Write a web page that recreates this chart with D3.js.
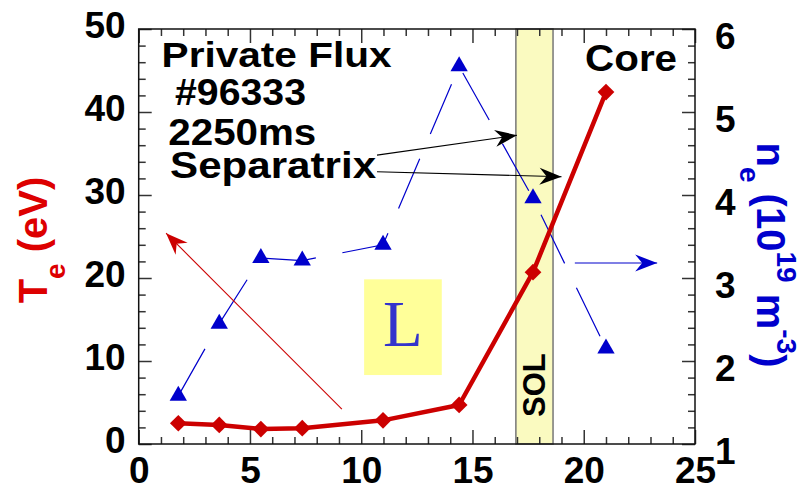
<!DOCTYPE html>
<html>
<head>
<meta charset="utf-8">
<script src="https://cdn.jsdelivr.net/npm/d3@7"></script>
<style>
	body { margin: 0; background: #fff; }
	text { font-family: "Liberation Sans", Arial, sans-serif; font-weight: bold; }
</style>
</head>
<body>
<svg id="chart" width="805" height="490"></svg>
<script>
// distance along the divertor (x), electron temperature and density
const xPos = [1.78, 3.62, 5.49, 7.35, 10.98, 14.4, 17.72, 21.0];
const teVals = [2.5, 2.3, 1.8, 1.9, 2.85, 4.7, 20.7, 42.4];
const nePos = [1.78, 3.62, 5.49, 7.35, 10.98, 14.4, 17.72, 21.0];
const neVals = [1.58, 2.45, 3.24, 3.21, 3.40, 5.55, 3.96, 2.15];

const xTicks = [0, 5, 10, 15, 20, 25];
const teTicks = [0, 10, 20, 30, 40, 50];
const neTicks = [1, 2, 3, 4, 5, 6];

const solBand = [16.95, 18.62];
const lBox = [10.13, 13.62, 8.31, 19.84];

let svg = d3.select("#chart");
let margin = {left: 138.7, right: 110, top: 29, bottom: 46};
let W = 805, H = 490;

let x = d3.scaleLinear().domain([0, 25]).range([margin.left, W - margin.right]);
let yL = d3.scaleLinear().domain([0, 50]).range([H - margin.bottom, margin.top]);
let yR = d3.scaleLinear().domain([1, 6]).range([H - margin.bottom, margin.top]);

let defs = svg.append("defs");
function arrowMarker(id, color) {
	defs.append("marker")
		.attr("id", id)
		.attr("markerUnits", "userSpaceOnUse")
		.attr("viewBox", "-24 -10 26 20")
		.attr("refX", 0).attr("refY", 0)
		.attr("markerWidth", 26).attr("markerHeight", 20)
		.attr("orient", "auto")
		.append("path")
		.attr("d", "M0,0 L-22,-8.5 L-15,0 L-22,8.5 Z")
		.attr("fill", color);
}
arrowMarker("headK", "#000");
arrowMarker("headB", "#0000cc");
arrowMarker("headR", "#cc0000");

// SOL band
svg.append("rect")
	.attr("x", x(solBand[0]))
	.attr("y", margin.top)
	.attr("width", x(solBand[1]) - x(solBand[0]))
	.attr("height", yL(0) - yL(50))
	.attr("fill", "#fafac0")
	.attr("stroke", "#777")
	.attr("stroke-width", 1.5);

// L-mode box
svg.append("rect")
	.attr("x", x(lBox[0]))
	.attr("y", yL(lBox[3]))
	.attr("width", x(lBox[1]) - x(lBox[0]))
	.attr("height", yL(lBox[2]) - yL(lBox[3]))
	.attr("fill", "#ffff99");
svg.append("text")
	.attr("x", x((lBox[0] + lBox[1]) / 2))
	.attr("y", yL(11.8))
	.attr("text-anchor", "middle")
	.style("font-family", "'Liberation Serif', 'Times New Roman', serif")
	.style("font-weight", "normal")
	.style("font-size", "65px")
	.attr("fill", "#3333cc")
	.text("L");

// axes: majors with labels, minors without
function styleAxis(g) {
	g.select(".domain").remove();
	g.selectAll(".tick line").attr("stroke", "#333").attr("stroke-width", 1.5);
	g.selectAll(".tick text")
		.attr("fill", "#000")
		.style("font-family", "'Liberation Sans', Arial, sans-serif")
		.style("font-weight", "bold")
		.style("font-size", "37px");
}
const xMinor = d3.range(0, 26).filter(d => d % 5 !== 0);
const teMinor = d3.range(0, 51, 2).filter(d => d % 10 !== 0);
const neMinor = d3.range(10, 61, 2).filter(d => d % 10 !== 0).map(d => d / 10);

svg.append("g").attr("transform", `translate(0,${yL(0)})`)
	.call(d3.axisBottom(x).tickValues(xTicks).tickSize(-14).tickPadding(13).tickFormat(d3.format("d")))
	.call(styleAxis);
svg.append("g").attr("transform", `translate(0,${yL(0)})`)
	.call(d3.axisBottom(x).tickValues(xMinor).tickSize(-7).tickFormat(""))
	.call(styleAxis);
svg.append("g").attr("transform", `translate(0,${margin.top})`)
	.call(d3.axisTop(x).tickValues(xTicks).tickSize(-14).tickFormat(""))
	.call(styleAxis);
svg.append("g").attr("transform", `translate(0,${margin.top})`)
	.call(d3.axisTop(x).tickValues(xMinor).tickSize(-7).tickFormat(""))
	.call(styleAxis);

let gl = svg.append("g").attr("transform", `translate(${margin.left},0)`)
	.call(d3.axisLeft(yL).tickValues(teTicks).tickSize(-13).tickPadding(13).tickFormat(d3.format("d")))
	.call(styleAxis);
gl.selectAll(".tick text").attr("dy", "0.24em");
svg.append("g").attr("transform", `translate(${margin.left},0)`)
	.call(d3.axisLeft(yL).tickValues(teMinor).tickSize(-7).tickFormat(""))
	.call(styleAxis);

let gr = svg.append("g").attr("transform", `translate(${W - margin.right},0)`)
	.call(d3.axisRight(yR).tickValues(neTicks).tickSize(-13).tickPadding(20).tickFormat(d3.format("d")))
	.call(styleAxis);
gr.selectAll(".tick text").attr("dy", "0.52em");
svg.append("g").attr("transform", `translate(${W - margin.right},0)`)
	.call(d3.axisRight(yR).tickValues(neMinor).tickSize(-7).tickFormat(""))
	.call(styleAxis);

// frame
svg.append("rect")
	.attr("x", margin.left).attr("y", margin.top)
	.attr("width", x(25) - x(0)).attr("height", yL(0) - yL(50))
	.attr("fill", "none").attr("stroke", "#111").attr("stroke-width", 1.5);

// density: thin dashed blue line with triangles
let neData = nePos.map((d, i) => ({x: d, y: neVals[i]}));
svg.append("path")
	.datum(neData)
	.attr("d", d3.line().x(d => x(d.x)).y(d => yR(d.y)))
	.attr("fill", "none")
	.attr("stroke", "#0000cc")
	.attr("stroke-width", 1.2)
	.attr("stroke-dasharray", "54,27");

// temperature: thick red line with diamonds
let teData = xPos.map((d, i) => ({x: d, y: teVals[i]}));
svg.append("path")
	.datum(teData)
	.attr("d", d3.line().x(d => x(d.x)).y(d => yL(d.y)))
	.attr("fill", "none")
	.attr("stroke", "#cc0000")
	.attr("stroke-width", 4.5)
	.attr("stroke-linejoin", "round");

svg.selectAll(".ne").data(neData).enter().append("path")
	.attr("class", "ne")
	.attr("d", d3.symbol(d3.symbolTriangle, 130))
	.attr("transform", d => `translate(${x(d.x)},${yR(d.y)})`)
	.attr("fill", "#0000cc");

svg.selectAll(".te").data(teData).enter().append("path")
	.attr("class", "te")
	.attr("d", d3.symbol(d3.symbolSquare, 140))
	.attr("transform", d => `translate(${x(d.x)},${yL(d.y)}) rotate(45)`)
	.attr("fill", "#cc0000");

// arrows
function arrow(x1, y1, x2, y2, color, head) {
	svg.append("line")
		.attr("x1", x1).attr("y1", y1).attr("x2", x2).attr("y2", y2)
		.attr("stroke", color).attr("stroke-width", 1.1)
		.attr("marker-end", `url(#${head})`);
}
arrow(x(9.13), yL(4.2), x(1.23), yL(25.4), "#cc0000", "headR");
arrow(x(19.6), yR(3.18), x(23.3), yR(3.18), "#0000cc", "headB");
arrow(x(10.71), yL(34.8), x(17.0), yL(37.2), "#000", "headK");
arrow(x(10.71), yL(32.8), x(19.0), yL(32.2), "#000", "headK");

// labels in the plot
function label(txt, px, py, size, len) {
	svg.append("text")
		.attr("x", x(px)).attr("y", yL(py))
		.attr("textLength", len).attr("lengthAdjust", "spacingAndGlyphs")
		.style("font-size", size + "px")
		.attr("fill", "#000")
		.text(txt);
}
label("Private Flux", 1.03, 45.46, 35, 230);
label("#96333", 1.63, 40.84, 37, 131);
label("2250ms", 1.33, 36.02, 37, 148);
label("Separatrix", 1.41, 32.01, 37, 206);
label("Core", 20.06, 44.98, 37, 92);

svg.append("text")
	.attr("transform", `translate(${x(18.26)},${yL(7.1)}) rotate(-90)`)
	.attr("text-anchor", "middle")
	.style("font-size", "31px")
	.attr("fill", "#000")
	.text("SOL");

// axis titles
let tl = svg.append("text")
	.attr("transform", "translate(47,240) rotate(-90)")
	.attr("text-anchor", "middle")
	.attr("fill", "#dd0000")
	.style("font-size", "40px");
tl.append("tspan").text("T");
tl.append("tspan").attr("dy", 18).style("font-size", "28px").text("e");
tl.append("tspan").attr("dy", -18).text(" (eV)");

let tr = svg.append("text")
	.attr("transform", "translate(757,255) rotate(90)")
	.attr("text-anchor", "middle")
	.attr("fill", "#0000cc")
	.style("font-size", "40px");
tr.append("tspan").text("n");
tr.append("tspan").attr("dy", 17).style("font-size", "28px").text("e");
tr.append("tspan").attr("dy", -17).text(" (10");
tr.append("tspan").attr("dy", -20).style("font-size", "28px").text("19");
tr.append("tspan").attr("dy", 20).text(" m");
tr.append("tspan").attr("dy", -20).style("font-size", "28px").text("-3");
tr.append("tspan").attr("dy", 20).text(")");
</script>
</body>
</html>
